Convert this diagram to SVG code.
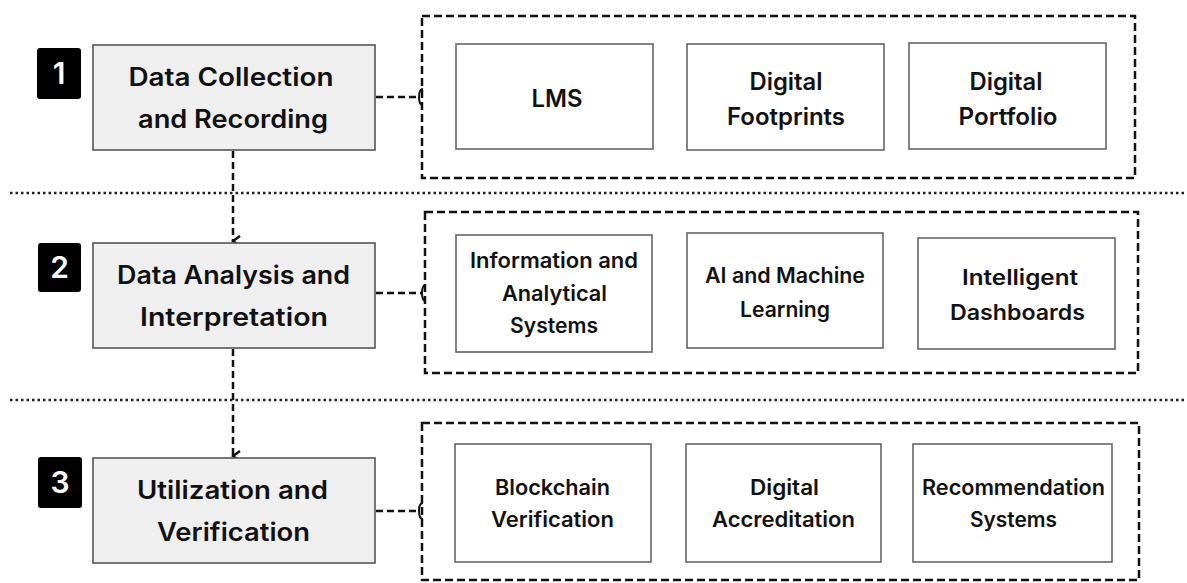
<svg xmlns="http://www.w3.org/2000/svg" width="1187" height="583" viewBox="0 0 1187 583">
<defs>
<style>
.bg{fill:#ffffff}
.main rect{fill:#efefef;stroke:#555;stroke-width:1.6}
.badge rect{fill:#000}
.badge text{fill:#fff;font-family:Inter,Roboto,"Liberation Sans",sans-serif;font-weight:600;font-size:30px;text-anchor:middle}
.main text{fill:#111;font-family:Inter,Roboto,"Liberation Sans",sans-serif;font-weight:600;font-size:25px;text-anchor:middle}
.grp{fill:none;stroke:#111;stroke-width:2.5;stroke-dasharray:8 4}
.item rect{fill:#fff;stroke:#666;stroke-width:1.6}
.item text{fill:#111;font-family:Inter,Roboto,"Liberation Sans",sans-serif;font-weight:600;text-anchor:middle}
.r1 text{font-size:24px}
.r2 text{font-size:21px}
.r3 text{font-size:21px}
.sep{stroke:#222;stroke-width:2.5;stroke-dasharray:2.5 3}
.conn{fill:none;stroke:#111;stroke-width:2.5;stroke-dasharray:7 4}
.tick{fill:none;stroke:#111;stroke-width:2}
</style>
<marker id="arr" viewBox="0 0 12 10" refX="6" refY="8" markerWidth="12" markerHeight="10" markerUnits="userSpaceOnUse" orient="auto-start-reverse">
<path d="M1,1 L6,8 L11,1" fill="none" stroke="#111" stroke-width="2.5"/>
</marker>
</defs>
<rect class="bg" x="0" y="0" width="1187" height="583"/>

<g id="separators">
<line class="sep" x1="10" y1="193" x2="1187" y2="193"/>
<line class="sep" x1="10" y1="400" x2="1187" y2="400"/>
</g>

<g id="groups">
<rect id="group1" class="grp" x="422" y="16" width="713" height="162"/>
<rect id="group2" class="grp" x="425" y="212" width="713" height="161"/>
<rect id="group3" class="grp" x="422" y="423" width="717" height="157"/>
</g>

<g id="connectors">
<line class="conn" x1="233" y1="151" x2="233" y2="241" marker-end="url(#arr)"/>
<line class="conn" x1="233" y1="349" x2="233" y2="456" marker-end="url(#arr)"/>
<line class="conn" x1="376" y1="97" x2="420" y2="97"/>
<path class="tick" d="M423,89 Q419,89 419,97 Q419,105 423,105"/>
<line class="conn" x1="376" y1="293" x2="423" y2="293"/>
<path class="tick" d="M426,285 Q422,285 422,293 Q422,301 426,301"/>
<line class="conn" x1="376" y1="511" x2="420" y2="511"/>
<path class="tick" d="M423,503 Q419,503 419,511 Q419,519 423,519"/>
</g>

<g id="badge1" class="badge"><rect x="37" y="48" width="44" height="51" rx="3"/><text x="59" y="84">1</text></g>
<g id="badge2" class="badge"><rect x="38" y="243" width="43" height="49" rx="3"/><text x="59.5" y="278">2</text></g>
<g id="badge3" class="badge"><rect x="38" y="457" width="44" height="51" rx="3"/><text x="60" y="493">3</text></g>

<g id="step1" class="main"><rect x="93" y="45" width="282" height="105"/><text x="231" y="86" textLength="205" lengthAdjust="spacingAndGlyphs">Data Collection</text><text x="233" y="128" textLength="190" lengthAdjust="spacingAndGlyphs">and Recording</text></g>
<g id="step2" class="main"><rect x="93" y="243" width="282" height="105"/><text x="233.5" y="284" textLength="233" lengthAdjust="spacingAndGlyphs">Data Analysis and</text><text x="234" y="326" textLength="188" lengthAdjust="spacingAndGlyphs">Interpretation</text></g>
<g id="step3" class="main"><rect x="93" y="458" width="282" height="105"/><text x="232.5" y="499" textLength="191" lengthAdjust="spacingAndGlyphs">Utilization and</text><text x="233.5" y="541" textLength="153" lengthAdjust="spacingAndGlyphs">Verification</text></g>

<g id="lms" class="item r1"><rect x="456" y="44" width="197" height="105"/><text x="557" y="107" textLength="51" lengthAdjust="spacingAndGlyphs">LMS</text></g>
<g id="footprints" class="item r1"><rect x="687" y="44" width="197" height="106"/><text x="786" y="90" textLength="73" lengthAdjust="spacingAndGlyphs">Digital</text><text x="786" y="125" textLength="118" lengthAdjust="spacingAndGlyphs">Footprints</text></g>
<g id="portfolio" class="item r1"><rect x="909" y="43" width="197" height="106"/><text x="1006" y="90" textLength="73" lengthAdjust="spacingAndGlyphs">Digital</text><text x="1008" y="125" textLength="99" lengthAdjust="spacingAndGlyphs">Portfolio</text></g>

<g id="infosys" class="item r2"><rect x="456" y="235" width="196" height="117"/><text x="554" y="268" textLength="168" lengthAdjust="spacingAndGlyphs">Information and</text><text x="554.5" y="301" textLength="105" lengthAdjust="spacingAndGlyphs">Analytical</text><text x="554" y="333" textLength="88" lengthAdjust="spacingAndGlyphs">Systems</text></g>
<g id="aiml" class="item r2"><rect x="687" y="233" width="196" height="115"/><text x="785" y="283" textLength="160" lengthAdjust="spacingAndGlyphs">AI and Machine</text><text x="785" y="317" textLength="90" lengthAdjust="spacingAndGlyphs">Learning</text></g>
<g id="dashboards" class="item r2"><rect x="918" y="238" width="197" height="111"/><text x="1020" y="285" textLength="116" lengthAdjust="spacingAndGlyphs">Intelligent</text><text x="1017.5" y="320" textLength="135" lengthAdjust="spacingAndGlyphs">Dashboards</text></g>

<g id="blockchain" class="item r3"><rect x="455" y="444" width="196" height="118"/><text x="552.5" y="495" textLength="115" lengthAdjust="spacingAndGlyphs">Blockchain</text><text x="552.5" y="527" textLength="123" lengthAdjust="spacingAndGlyphs">Verification</text></g>
<g id="accreditation" class="item r3"><rect x="686" y="444" width="195" height="118"/><text x="784.5" y="495" textLength="69" lengthAdjust="spacingAndGlyphs">Digital</text><text x="783.5" y="527" textLength="143" lengthAdjust="spacingAndGlyphs">Accreditation</text></g>
<g id="recommendation" class="item r3"><rect x="913" y="444" width="199" height="118"/><text x="1013.5" y="495" textLength="183" lengthAdjust="spacingAndGlyphs">Recommendation</text><text x="1013.5" y="527" textLength="87" lengthAdjust="spacingAndGlyphs">Systems</text></g>
</svg>
